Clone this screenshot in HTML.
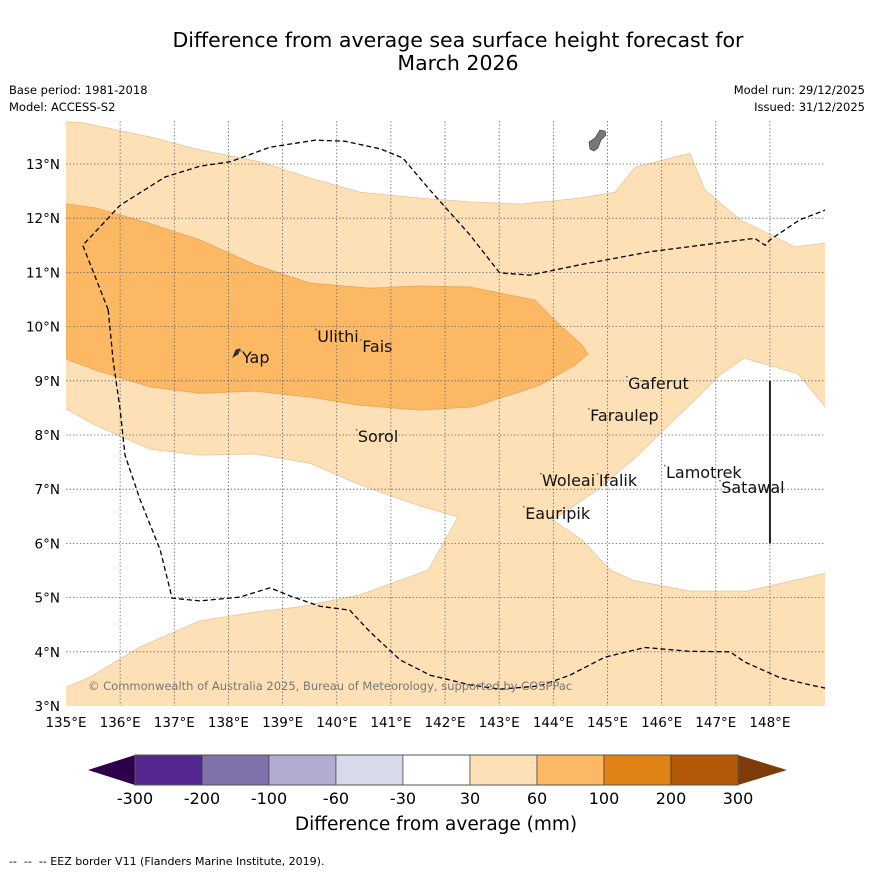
<!DOCTYPE html>
<html><head><meta charset="utf-8"><style>
body{margin:0;background:#fff;}
svg text{font-family:"DejaVu Sans","Liberation Sans",sans-serif;}
</style></head><body>
<svg width="873" height="873" viewBox="0 0 873 873" xmlns="http://www.w3.org/2000/svg">
<text x="458" y="47" font-size="20.5" text-anchor="middle">Difference from average sea surface height forecast for</text>
<text x="458" y="70" font-size="20.5" text-anchor="middle">March 2026</text>
<text x="9" y="94" font-size="11.5">Base period: 1981-2018</text>
<text x="9" y="111" font-size="11.5">Model: ACCESS-S2</text>
<text x="865" y="94" font-size="11.5" text-anchor="end">Model run: 29/12/2025</text>
<text x="865" y="111" font-size="11.5" text-anchor="end">Issued: 31/12/2025</text>
<defs><clipPath id="mapclip"><rect x="66" y="121" width="759" height="585"/></clipPath></defs>
<g id="map" clip-path="url(#mapclip)"></g>
<g id="axes"></g>
<g id="cbar"></g>
<text x="436" y="830" font-size="18.5" text-anchor="middle">Difference from average (mm)</text>
<text x="9" y="865" font-size="11">-- &#160;-- &#160;-- EEZ border V11 (Flanders Marine Institute, 2019).</text>
</svg>
<script>
const lonTicks=[135,136,137,138,139,140,141,142,143,144,145,146,147,148];
const latTicks=[3,4,5,6,7,8,9,10,11,12,13];
const cbLevels=[-300,-200,-100,-60,-30,30,60,100,200,300];
const cbColors=["#54278f","#8073ac","#b2abd2","#d8daeb","#ffffff","#fee0b6","#fdb863","#e08214","#b35806"];
const topWhite=[[135,13.77],[135.26,13.77],[136.55,13.5],[137.47,13.26],[138.58,13.04],[139.51,12.74],[140.43,12.48],[141.54,12.37],[142.46,12.3],[143.38,12.26],[144.49,12.37],[145.14,12.48],[145.51,12.94],[146.52,13.2],[146.8,12.52],[147.45,11.97],[148.46,11.47],[149.02,11.54],[149.2,11.54],[149.2,14],[135,14]];
const leftWhite=[[134.9,8.54],[135.54,8.18],[136.55,7.74],[137.47,7.63],[138.49,7.65],[139.51,7.48],[140.43,7.08],[141.54,6.69],[142.24,6.49],[141.69,5.51],[140.43,5.05],[139.32,4.83],[138.49,4.73],[137.47,4.57],[136.37,4.09],[135.44,3.53],[134.9,3.30]];
const rightWhite=[[147.52,9.42],[148.52,9.13],[149.2,8.3],[149.2,5.45],[149.02,5.45],[147.58,5.12],[146.52,5.12],[145.47,5.32],[145.05,5.51],[144.53,6.06],[143.99,6.43],[144.82,6.99],[145.51,7.58],[146.71,8.74],[147.08,9.11]];
const darkBand=[[134.9,12.28],[135.54,12.19],[136.46,11.93],[137.47,11.6],[138.49,11.14],[139.51,10.8],[140.61,10.71],[141.54,10.75],[142.46,10.73],[143.66,10.49],[144.12,10.03],[144.53,9.66],[144.64,9.49],[144.4,9.29],[143.75,8.92],[143.48,8.83],[142.52,8.52],[141.54,8.46],[140.43,8.55],[139.51,8.7],[138.49,8.81],[137.47,8.77],[136.55,8.89],[135.54,9.2],[134.9,9.44]];
const eezNorth=[[135.78,10.31],[135.31,11.5],[136.0,12.24],[136.83,12.76],[137.47,12.96],[138.03,13.04],[138.77,13.31],[139.6,13.44],[140.15,13.42],[140.8,13.28],[141.22,13.11],[141.72,12.52],[142.46,11.69],[143.01,10.99],[143.57,10.95],[144.49,11.14],[145.78,11.38],[146.71,11.5],[147.72,11.63],[147.91,11.5],[148.0,11.6],[148.55,11.97],[149.02,12.15]];
const eezSouth=[[135.78,10.31],[135.87,9.38],[136.0,8.46],[136.09,7.63],[136.37,6.8],[136.74,5.88],[136.96,4.99],[137.47,4.94],[138.21,5.01],[138.77,5.18],[139.14,5.03],[139.69,4.84],[140.24,4.77],[140.61,4.37],[141.17,3.85],[141.72,3.57],[142.46,3.39],[143.01,3.31],[143.75,3.37],[144.31,3.57],[144.95,3.9],[145.69,4.08],[146.52,4.01],[147.26,4.0],[147.54,3.81],[148.19,3.52],[148.74,3.39],[149.02,3.33]];
const islandNames=["Yap","Ulithi","Fais","Sorol","Gaferut","Faraulep","Woleai","Ifalik","Lamotrek","Satawal","Eauripik"];
const islandLon=[138.25,139.64,140.47,140.39,145.38,144.68,143.79,144.84,146.08,147.1,143.48];
const islandLat=[9.33,9.72,9.53,7.87,8.85,8.26,7.06,7.06,7.21,6.93,6.45];
const NS="http://www.w3.org/2000/svg";
const X=lon=>66+(lon-135)*54.15, Y=lat=>164+(13-lat)*54.2;
function mk(tag,attrs,parent){const e=document.createElementNS(NS,tag);for(const k in attrs)e.setAttribute(k,attrs[k]);parent.appendChild(e);return e;}
const pts=a=>a.map(p=>X(p[0]).toFixed(1)+","+Y(p[1]).toFixed(1)).join(" ");
const map=document.getElementById('map'), axes=document.getElementById('axes'), cbar=document.getElementById('cbar');
let r=mk('rect',{x:66,y:121,width:759,height:585,fill:"#fee0b6"},map);


[[topWhite,'white-region-north'],[leftWhite,'white-region-southwest'],[rightWhite,'white-region-southeast']].forEach(([a,n])=>{
 const p=mk('polygon',{points:pts(a),fill:"#fff",stroke:"#e8c49a","stroke-width":0.8},map);
 
 
});
let d=mk('polygon',{points:pts(darkBand),fill:"#fdb863",stroke:"#e9a458","stroke-width":0.8},map);


lonTicks.forEach(l=>{if(l>135){const g=mk('line',{x1:X(l),x2:X(l),y1:121,y2:706,stroke:"#666","stroke-width":0.8,"stroke-dasharray":"1.5,2"},map);
 
 }});
latTicks.forEach(l=>{if(l>3){const g=mk('line',{x1:66,x2:825,y1:Y(l),y2:Y(l),stroke:"#666","stroke-width":0.8,"stroke-dasharray":"1.5,2"},map);
 
 }});
[[eezNorth,'eez-border-north'],[eezSouth,'eez-border-south']].forEach(([a,n])=>{
 const p=mk('polyline',{points:pts(a),fill:"none",stroke:"#000","stroke-width":1.3,"stroke-dasharray":"5,3"},map);
 
 
});
let vl=mk('line',{x1:X(148),x2:X(148),y1:Y(9),y2:Y(6),stroke:"#222","stroke-width":2},map);


let gu=mk('path',{d:"M600,130 L605,131 L606,135 L601,140 L598,148 L594,151 L590,149 L589,142 L595,138 Z",fill:"#777",stroke:"#333","stroke-width":0.6},map);


let yp=mk('path',{d:"M233,357 L236,350 L240,349 L238,354 Z",fill:"#333",stroke:"#222","stroke-width":0.8},map);


islandNames.forEach((n,i)=>{
 const dot=mk('rect',{x:X(islandLon[i])-2,y:Y(islandLat[i])-13,width:1.5,height:1.5,fill:"#666"},map);
 
 
 const t=mk('text',{x:X(islandLon[i]),y:Y(islandLat[i]),"font-size":16,fill:"#111"},map);
 t.textContent=n;
 
 
});
let cp=mk('text',{x:88,y:690,"font-size":11.5,fill:"#777"},map);
cp.textContent="© Commonwealth of Australia 2025, Bureau of Meteorology, supported by COSPPac";


lonTicks.forEach(l=>{const t=mk('text',{x:X(l),y:727,"font-size":13.5,"text-anchor":"middle"},axes);t.textContent=l+"°E";
 
 });
latTicks.forEach(l=>{const t=mk('text',{x:60,y:Y(l)+5,"font-size":13.5,"text-anchor":"end"},axes);t.textContent=l+"°N";
 
 });
const cx0=135,cx1=738,cy=755,ch=30,sw=(cx1-cx0)/cbColors.length;
let lt=mk('polygon',{points:`88,770 ${cx0},${cy} ${cx0},${cy+ch}`,fill:"#2d004b"},cbar);


let rt=mk('polygon',{points:`787,770 ${cx1},${cy} ${cx1},${cy+ch}`,fill:"#7f3b08"},cbar);


cbColors.forEach((c,i)=>{const s=mk('rect',{x:cx0+i*sw,y:cy,width:sw,height:ch,fill:c,stroke:"#333","stroke-width":0.6},cbar);
 
 });
let bd=mk('rect',{x:cx0,y:cy,width:cx1-cx0,height:ch,fill:"none",stroke:"#555","stroke-width":1},cbar);


cbLevels.forEach((v,i)=>{const t=mk('text',{x:cx0+i*sw,y:804,"font-size":16,"text-anchor":"middle"},cbar);t.textContent=v;
 
 });
</script>
</body></html>
